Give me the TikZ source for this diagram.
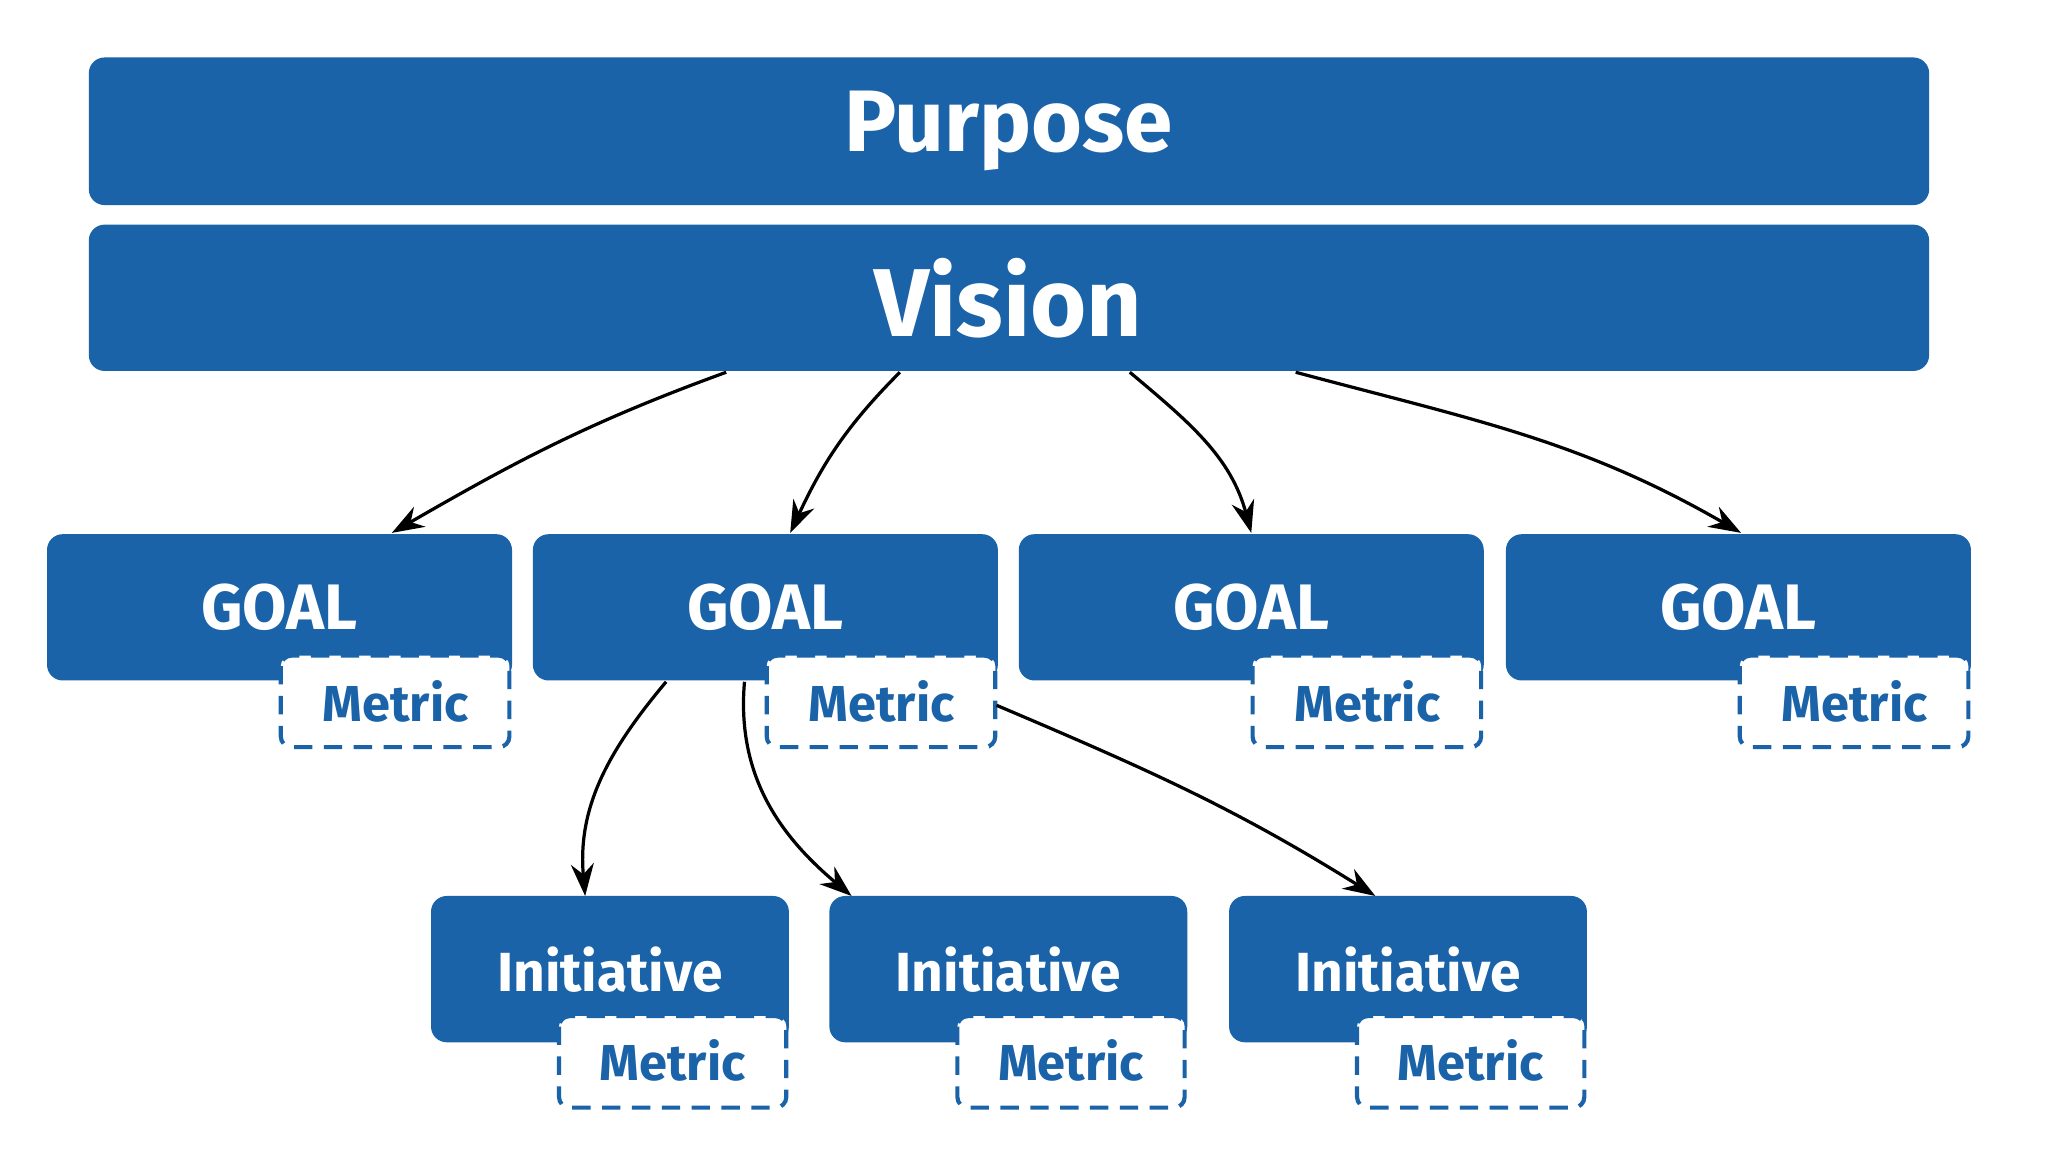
\documentclass[tikz,border=0pt]{standalone}
\usepackage{fontspec}
\setmainfont{Fira Sans}
\usetikzlibrary{arrows.meta}
\definecolor{bl}{HTML}{1B63A8}
\begin{document}
\begin{tikzpicture}[x=0.01cm,y=-0.01cm,
 box/.style={fill=bl,rounded corners=0.12cm,inner sep=0},
 met/.style={fill=white,draw=bl,line width=0.9pt,dash pattern=on 4pt off 2.5pt,rounded corners=0.08cm},
 mt/.style={text=bl,font=\fontsize{11}{13}\selectfont\bfseries},
 arr/.style={-{Stealth[length=7pt,width=5pt]},line width=0.7pt}]
\useasboundingbox (0,0) rectangle (1568,882);
\fill[box] (68,44) rectangle (1477,157);
\node[text=white,font=\fontsize{19}{22}\selectfont\bfseries] (purpose) at (772,100) {Purpose};
\fill[box] (68,172) rectangle (1477,284);
\node[text=white,font=\fontsize{21}{24}\selectfont\bfseries] (vision) at (772,228) {Vision};
\foreach \x [count=\i] in {36,408,780,1153}{
  \fill[box] (\x,409) rectangle ++(356,112);
  \node[text=white,font=\fontsize{14}{16}\selectfont\bfseries] (g\i) at (\x+178,465) {GOAL};
  \draw[met] (\x+179,502) rectangle ++(175,70);
  \node[mt] (gm\i) at (\x+267,537) {Metric};
}
\foreach \x [count=\i] in {330,635,941}{
  \fill[box] (\x,686) rectangle ++(274,112);
  \node[text=white,font=\fontsize{12}{14}\selectfont\bfseries] (in\i) at (\x+137,742) {Initiative};
  \draw[met] (\x+98,778) rectangle ++(174,70);
  \node[mt] (im\i) at (\x+185,812) {Metric};
}
\coordinate (v1) at (556,285); \coordinate (v2) at (689,285);
\coordinate (v3) at (865,285); \coordinate (v4) at (992,285);
\coordinate (t1) at (300,408); \coordinate (t2) at (605,408);
\coordinate (t3) at (958,408); \coordinate (t4) at (1333,408);
\draw[arr] (v1) to[out=-160,in=30] (t1);
\draw[arr] (v2) to[out=-135,in=65] (t2);
\draw[arr] (v3) to[out=-40,in=105] (t3);
\draw[arr] (v4) to[out=-15,in=150] (t4);
\coordinate (s1) at (510,522); \coordinate (s2) at (570,522); \coordinate (s3) at (763,540);
\coordinate (e1) at (448,686); \coordinate (e2) at (652,686); \coordinate (e3) at (1053,686);
\draw[arr] (s1) to[out=-130,in=95] (e1);
\draw[arr] (s2) to[out=-95,in=140] (e2);
\draw[arr] (s3) to[out=-23,in=148] (e3);
\end{tikzpicture}
\end{document}
